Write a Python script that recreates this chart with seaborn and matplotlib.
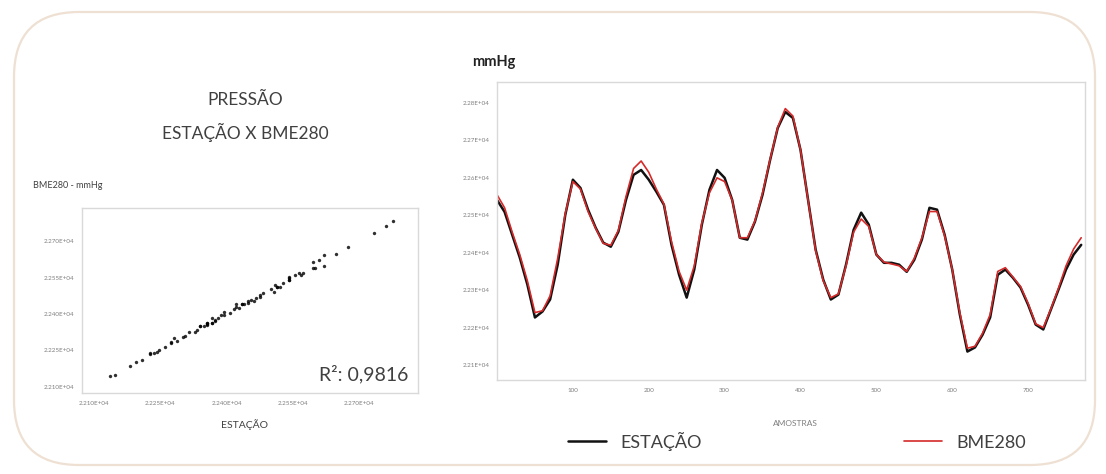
import numpy as np
import pandas as pd
import matplotlib
matplotlib.use('Agg')
import matplotlib.pyplot as plt
from matplotlib.patches import FancyBboxPatch
import seaborn as sns

# amostras (every 10 samples)
amostras = list(range(0, 780, 10))

estacao = [22541, 22509, 22448, 22387, 22315, 22227, 22243, 22275, 22368, 22501,
           22595, 22573, 22515, 22467, 22427, 22416, 22456, 22541, 22608, 22621,
           22595, 22563, 22528, 22421, 22341, 22280, 22355, 22475, 22568, 22621,
           22600, 22541, 22440, 22435, 22483, 22555, 22648, 22733, 22776, 22760,
           22675, 22541, 22408, 22328, 22275, 22288, 22368, 22461, 22507, 22475,
           22395, 22373, 22373, 22368, 22349, 22381, 22435, 22520, 22515, 22448,
           22355, 22235, 22136, 22147, 22181, 22227, 22341, 22355, 22333, 22307,
           22261, 22208, 22195, 22248, 22301, 22355, 22395, 22421]

bme280 = [22555, 22520, 22455, 22395, 22325, 22240, 22245, 22285, 22385, 22505,
          22590, 22570, 22510, 22465, 22425, 22420, 22460, 22550, 22625, 22645,
          22615, 22570, 22530, 22430, 22350, 22300, 22365, 22480, 22560, 22600,
          22590, 22540, 22440, 22440, 22485, 22560, 22650, 22735, 22785, 22765,
          22675, 22540, 22405, 22325, 22280, 22290, 22365, 22455, 22490, 22470,
          22395, 22375, 22370, 22365, 22350, 22385, 22440, 22510, 22510, 22445,
          22355, 22240, 22145, 22150, 22185, 22235, 22350, 22360, 22335, 22310,
          22265, 22210, 22200, 22250, 22305, 22365, 22410, 22440]

r2_text = 'R²: 0,9816'
scatter_ticks = [22100, 22250, 22400, 22550, 22700]
serie_yticks = [22100, 22200, 22300, 22400, 22500, 22600, 22700, 22800]
serie_xticks = [100, 200, 300, 400, 500, 600, 700]

df = pd.DataFrame({'amostra': amostras, 'ESTAÇÃO': estacao, 'BME280': bme280})

sns.set_style('white')
plt.rcParams['font.family'] = ['Lato', 'DejaVu Sans']

fig = plt.figure(figsize=(11.06, 4.74), dpi=100)

# background with rounded frame (pixel coords)
bg = fig.add_axes([0, 0, 1, 1], zorder=-1)
bg.set_xlim(0, 1106)
bg.set_ylim(474, 0)
bg.axis('off')
bg.add_patch(FancyBboxPatch((14, 12), 1081, 453, boxstyle='round,pad=0,rounding_size=65',
                            fc='white', ec='#eee0d2', lw=1.6))

gray = '#7f7f7f'
dark = '#404040'

bg.text(245, 100, 'PRESSÃO', ha='center', va='center', fontsize=12.5, color=dark)
bg.text(245, 132, 'ESTAÇÃO X BME280', ha='center', va='center', fontsize=12.5, color=dark)
bg.text(33, 185, 'BME280 - mmHg', ha='left', va='center', fontsize=6.5, color=dark)
bg.text(245, 425, 'ESTAÇÃO', ha='center', va='center', fontsize=7.5, color=dark)
bg.text(472, 62, 'mmHg', ha='left', va='center', fontsize=10.5, fontweight='bold', color='#222222')
bg.text(795, 424, 'AMOSTRAS', ha='center', va='center', fontsize=6, color=gray)

# scatter ESTAÇÃO x BME280
ax1 = fig.add_axes([82 / 1106, 1 - 393 / 474, 336 / 1106, 185 / 474])
sns.scatterplot(data=df, x='ESTAÇÃO', y='BME280', ax=ax1, s=5, color='black',
                edgecolor=None, alpha=0.8)
ax1.set_xlim(22073, 22833)
ax1.set_ylim(22074, 22838)
ax1.set_xticks(scatter_ticks)
ax1.set_yticks(scatter_ticks)
ax1.set_xticklabels([f'{v:.3E}' for v in scatter_ticks])
ax1.set_yticklabels([f'{v:.3E}' for v in scatter_ticks])
ax1.set_xlabel('')
ax1.set_ylabel('')
ax1.text(0.97, 0.1, r2_text, transform=ax1.transAxes, ha='right', va='center',
         fontsize=14, color=dark)

# series
ax2 = fig.add_axes([497 / 1106, 1 - 380 / 474, 588 / 1106, 298 / 474])
sns.lineplot(data=df, x='amostra', y='ESTAÇÃO', ax=ax2, color='#111111', lw=1.8,
             label='ESTAÇÃO', legend=False)
sns.lineplot(data=df, x='amostra', y='BME280', ax=ax2, color='#d42a2a', lw=1.2,
             label='BME280', legend=False)
ax2.set_xlim(0, 775)
ax2.set_ylim(22060, 22856)
ax2.set_xticks(serie_xticks)
ax2.set_yticks(serie_yticks)
ax2.set_yticklabels([f'{v:.2E}' for v in serie_yticks])
ax2.set_xlabel('')
ax2.set_ylabel('')

for ax in (ax1, ax2):
    for sp in ax.spines.values():
        sp.set_color('#d9d9d9')
        sp.set_linewidth(1)
    ax.tick_params(labelsize=4.5, colors='#d0d0d0', labelcolor=gray, length=2, width=0.6)

handles, labels = ax2.get_legend_handles_labels()
fig.legend(handles, labels, ncol=2, loc='center', bbox_to_anchor=(0.721, 1 - 441 / 474),
           frameon=False, fontsize=13, handlelength=2.1, columnspacing=11.2,
           labelcolor=dark)

plt.savefig('out.png', dpi=100)
